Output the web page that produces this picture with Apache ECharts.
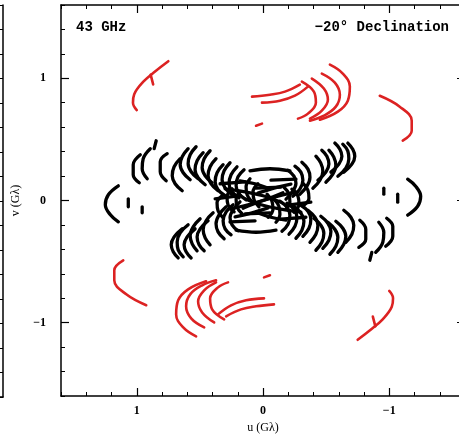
<!DOCTYPE html>
<html lang="en">
<head>
<meta charset="UTF-8">
<title>uv coverage - 43 GHz, -20° Declination</title>
<script src="https://cdn.jsdelivr.net/npm/echarts@6.0.0/dist/echarts.min.js"></script>
<style>
    html, body { margin: 0; padding: 0; background: #ffffff; }
    #chart { width: 459px; height: 438px; }
</style>
</head>
<body>
<div id="chart"></div>
<script>
    // axis range (Gλ) and labelled ticks
    const axisMin = -1.6;
    const axisMax = 1.6;
    const tickStep = 0.2;
    const majorTicks = [-1, 0, 1];

    // black tracks, one half of the plane: [u, v] in Gλ
    const blackOuter = [
        [[1.146, 0.12], [1.225, 0.047], [1.249, -0.035], [1.209, -0.117], [1.146, -0.175]],
        [[1.067, 0.014], [1.067, -0.052]],
        [[0.957, -0.052], [0.957, -0.101]],
        [[0.972, 0.375], [1.028, 0.293], [1.028, 0.211], [0.980, 0.145]],
        [[0.893, 0.424], [0.949, 0.342], [0.957, 0.260], [0.917, 0.178]],
        [[0.846, 0.489], [0.862, 0.424]],
        [[0.759, 0.383], [0.814, 0.317], [0.814, 0.235], [0.767, 0.161]]
    ];
    const blackUpperWing = [
        [[0.593, 0.424], [0.640, 0.358], [0.656, 0.293], [0.632, 0.227], [0.577, 0.170]],
        [[0.656, 0.342], [0.704, 0.276], [0.719, 0.202], [0.696, 0.137], [0.640, 0.080]],
        [[0.474, 0.391], [0.522, 0.325], [0.538, 0.252], [0.514, 0.186], [0.458, 0.129]],
        [[0.530, 0.440], [0.577, 0.375], [0.593, 0.301], [0.569, 0.235], [0.514, 0.178]],
        [[0.419, 0.407], [0.466, 0.342], [0.482, 0.268], [0.458, 0.202], [0.403, 0.145]],
        [[0.372, 0.342], [0.419, 0.276], [0.435, 0.202], [0.411, 0.137], [0.356, 0.080]],
        [[0.316, 0.293], [0.364, 0.227], [0.379, 0.153], [0.356, 0.088], [0.300, 0.039]],
        [[0.261, 0.309], [0.308, 0.243], [0.324, 0.170], [0.300, 0.104], [0.245, 0.047]],
        [[0.206, 0.276], [0.253, 0.211], [0.269, 0.137], [0.245, 0.071], [0.190, 0.022]],
        [[0.150, 0.252], [0.198, 0.194], [0.213, 0.120], [0.190, 0.055], [0.134, 0.006]]
    ];
    const blackLowerWing = [
        [[0.593, -0.199], [0.656, -0.265], [0.680, -0.339], [0.672, -0.404], [0.632, -0.461]],
        [[0.640, -0.232], [0.704, -0.298], [0.727, -0.363], [0.711, -0.420], [0.672, -0.470]],
        [[0.498, -0.150], [0.553, -0.216], [0.577, -0.289], [0.561, -0.355], [0.522, -0.412]],
        [[0.538, -0.232], [0.601, -0.298], [0.625, -0.363], [0.609, -0.420], [0.569, -0.470]],
        [[0.395, -0.101], [0.451, -0.166], [0.474, -0.240], [0.458, -0.306], [0.419, -0.363]],
        [[0.435, -0.166], [0.498, -0.232], [0.522, -0.298], [0.506, -0.363], [0.466, -0.412]],
        [[0.292, -0.052], [0.348, -0.117], [0.372, -0.191], [0.356, -0.257], [0.308, -0.314]],
        [[0.237, -0.035], [0.292, -0.093], [0.316, -0.166], [0.300, -0.232], [0.253, -0.281]],
        [[0.182, -0.011], [0.237, -0.076], [0.261, -0.142], [0.245, -0.199], [0.198, -0.248]]
    ];
    const blackCore = [
        [[0.103, 0.243], [-0.055, 0.260], [-0.213, 0.243]],
        [[0.300, 0.096], [0.142, 0.071], [0, 0.039], [-0.134, -0.011]],
        [[0.261, -0.068], [0.119, -0.035], [-0.016, 0.006], [-0.158, 0.063]],
        [[0.182, 0.161], [0.063, 0.137], [-0.055, 0.096]],
        [[0.221, -0.134], [0.087, -0.101], [-0.040, -0.060]],
        [[0.103, 0.178], [0.134, 0.112], [0.126, 0.047], [0.087, -0.011]],
        [[0.040, 0.137], [0.079, 0.071], [0.071, 0.006], [0.032, -0.052]],
        [[0.245, 0.096], [0.285, 0.030], [0.277, -0.035], [0.229, -0.093]],
        [[0.182, 0.071], [0.213, 0.014], [0.206, -0.052], [0.166, -0.109]],
        [[0.324, 0.039], [0.364, -0.019], [0.356, -0.084], [0.316, -0.142]],
        [[0.340, 0.137], [0.142, 0.153]],
        [[0.379, 0.014], [0.182, 0.039]],
        [[0.261, -0.175], [0.063, -0.166]],
        [[0.142, -0.109], [-0.055, -0.101]]
    ];

    // black tracks, conjugate half
    const blackOuterConj = [
        [[-1.146, -0.12], [-1.225, -0.047], [-1.249, 0.035], [-1.209, 0.117], [-1.146, 0.175]],
        [[-1.067, -0.014], [-1.067, 0.052]],
        [[-0.957, 0.052], [-0.957, 0.101]],
        [[-0.972, -0.375], [-1.028, -0.293], [-1.028, -0.211], [-0.980, -0.145]],
        [[-0.893, -0.424], [-0.949, -0.342], [-0.957, -0.260], [-0.917, -0.178]],
        [[-0.846, -0.489], [-0.862, -0.424]],
        [[-0.759, -0.383], [-0.814, -0.317], [-0.814, -0.235], [-0.767, -0.161]]
    ];
    const blackUpperWingConj = [
        [[-0.593, -0.424], [-0.640, -0.358], [-0.656, -0.293], [-0.632, -0.227], [-0.577, -0.170]],
        [[-0.656, -0.342], [-0.704, -0.276], [-0.719, -0.202], [-0.696, -0.137], [-0.640, -0.080]],
        [[-0.474, -0.391], [-0.522, -0.325], [-0.538, -0.252], [-0.514, -0.186], [-0.458, -0.129]],
        [[-0.530, -0.440], [-0.577, -0.375], [-0.593, -0.301], [-0.569, -0.235], [-0.514, -0.178]],
        [[-0.419, -0.407], [-0.466, -0.342], [-0.482, -0.268], [-0.458, -0.202], [-0.403, -0.145]],
        [[-0.372, -0.342], [-0.419, -0.276], [-0.435, -0.202], [-0.411, -0.137], [-0.356, -0.080]],
        [[-0.316, -0.293], [-0.364, -0.227], [-0.379, -0.153], [-0.356, -0.088], [-0.300, -0.039]],
        [[-0.261, -0.309], [-0.308, -0.243], [-0.324, -0.170], [-0.300, -0.104], [-0.245, -0.047]],
        [[-0.206, -0.276], [-0.253, -0.211], [-0.269, -0.137], [-0.245, -0.071], [-0.190, -0.022]],
        [[-0.150, -0.252], [-0.198, -0.194], [-0.213, -0.120], [-0.190, -0.055], [-0.134, -0.006]]
    ];
    const blackLowerWingConj = [
        [[-0.593, 0.199], [-0.656, 0.265], [-0.680, 0.339], [-0.672, 0.404], [-0.632, 0.461]],
        [[-0.640, 0.232], [-0.704, 0.298], [-0.727, 0.363], [-0.711, 0.420], [-0.672, 0.470]],
        [[-0.498, 0.150], [-0.553, 0.216], [-0.577, 0.289], [-0.561, 0.355], [-0.522, 0.412]],
        [[-0.538, 0.232], [-0.601, 0.298], [-0.625, 0.363], [-0.609, 0.420], [-0.569, 0.470]],
        [[-0.395, 0.101], [-0.451, 0.166], [-0.474, 0.240], [-0.458, 0.306], [-0.419, 0.363]],
        [[-0.435, 0.166], [-0.498, 0.232], [-0.522, 0.298], [-0.506, 0.363], [-0.466, 0.412]],
        [[-0.292, 0.052], [-0.348, 0.117], [-0.372, 0.191], [-0.356, 0.257], [-0.308, 0.314]],
        [[-0.237, 0.035], [-0.292, 0.093], [-0.316, 0.166], [-0.300, 0.232], [-0.253, 0.281]],
        [[-0.182, 0.011], [-0.237, 0.076], [-0.261, 0.142], [-0.245, 0.199], [-0.198, 0.248]]
    ];
    const blackCoreConj = [
        [[-0.103, -0.243], [0.055, -0.260], [0.213, -0.243]],
        [[-0.300, -0.096], [-0.142, -0.071], [0, -0.039], [0.134, 0.011]],
        [[-0.261, 0.068], [-0.119, 0.035], [0.016, -0.006], [0.158, -0.063]],
        [[-0.182, -0.161], [-0.063, -0.137], [0.055, -0.096]],
        [[-0.221, 0.134], [-0.087, 0.101], [0.040, 0.060]],
        [[-0.103, -0.178], [-0.134, -0.112], [-0.126, -0.047], [-0.087, 0.011]],
        [[-0.040, -0.137], [-0.079, -0.071], [-0.071, -0.006], [-0.032, 0.052]],
        [[-0.245, -0.096], [-0.285, -0.030], [-0.277, 0.035], [-0.229, 0.093]],
        [[-0.182, -0.071], [-0.213, -0.014], [-0.206, 0.052], [-0.166, 0.109]],
        [[-0.324, -0.039], [-0.364, 0.019], [-0.356, 0.084], [-0.316, 0.142]],
        [[-0.340, -0.137], [-0.142, -0.153]],
        [[-0.379, -0.014], [-0.182, -0.039]],
        [[-0.261, 0.175], [-0.063, 0.166]],
        [[-0.142, 0.109], [0.055, 0.101]]
    ];

    // red tracks (long baselines), upper half
    const redUpper = [
        [[0.75, 1.14], [0.85, 1.06], [0.95, 0.97], [1.02, 0.87], [1.03, 0.80], [1.0, 0.74]],
        [[0.89, 1.03], [0.87, 0.95]],
        [[-0.925, 0.857], [-1.083, 0.768], [-1.178, 0.653], [-1.178, 0.571], [-1.107, 0.49]],
        [[-0.53, 1.112], [-0.632, 1.039], [-0.688, 0.932], [-0.672, 0.817], [-0.593, 0.727], [-0.451, 0.661]],
        [[-0.466, 1.039], [-0.569, 0.965], [-0.609, 0.866], [-0.577, 0.768], [-0.482, 0.694], [-0.372, 0.653]],
        [[-0.387, 0.998], [-0.482, 0.916], [-0.514, 0.825], [-0.466, 0.735], [-0.372, 0.67]],
        [[-0.308, 0.973], [-0.403, 0.891], [-0.419, 0.801], [-0.356, 0.711], [-0.277, 0.67]],
        [[0.087, 0.85], [-0.055, 0.866], [-0.174, 0.891], [-0.292, 0.948]],
        [[0.008, 0.801], [-0.134, 0.817], [-0.253, 0.858], [-0.356, 0.932]],
        [[0.055, 0.612], [0.008, 0.629]]
    ];
    // red tracks, lower half
    const redLower = [
        [[-0.75, -1.14], [-0.85, -1.06], [-0.95, -0.97], [-1.02, -0.87], [-1.03, -0.80], [-1.0, -0.74]],
        [[-0.89, -1.03], [-0.87, -0.95]],
        [[0.925, -0.857], [1.083, -0.768], [1.178, -0.653], [1.178, -0.571], [1.107, -0.49]],
        [[0.53, -1.112], [0.632, -1.039], [0.688, -0.932], [0.672, -0.817], [0.593, -0.727], [0.451, -0.661]],
        [[0.466, -1.039], [0.569, -0.965], [0.609, -0.866], [0.577, -0.768], [0.482, -0.694], [0.372, -0.653]],
        [[0.387, -0.998], [0.482, -0.916], [0.514, -0.825], [0.466, -0.735], [0.372, -0.67]],
        [[0.308, -0.973], [0.403, -0.891], [0.419, -0.801], [0.356, -0.711], [0.277, -0.67]],
        [[-0.087, -0.85], [0.055, -0.866], [0.174, -0.891], [0.292, -0.948]],
        [[-0.008, -0.801], [0.134, -0.817], [0.253, -0.858], [0.356, -0.932]],
        [[-0.055, -0.612], [-0.008, -0.629]]
    ];

    const black = '#000000';
    const red = '#dc2222';
    const labelFont = { fontFamily: '"Liberation Serif", serif', fontWeight: 'bold', fontSize: 12, color: '#000' };

    function tickText(v) {
        if (v === 0) return '0';
        return (v < 0 ? '\u2212' : '') + Math.abs(v);
    }

    function trackSeries(track, color, width) {
        return {
            type: 'line',
            data: track,
            smooth: 0.4,
            showSymbol: false,
            silent: true,
            animation: false,
            lineStyle: { color: color, width: width, cap: 'round', join: 'round' }
        };
    }

    const blackTracks = [].concat(blackOuter, blackUpperWing, blackLowerWing, blackCore,
        blackOuterConj, blackUpperWingConj, blackLowerWingConj, blackCoreConj);
    const redTracks = [].concat(redUpper, redLower);

    const series = [];
    blackTracks.forEach(t => series.push(trackSeries(t, black, 3.3)));
    redTracks.forEach(t => series.push(trackSeries(t, red, 2.6)));

    // shared axis pieces
    const range = { min: axisMin, max: axisMax, interval: tickStep, scale: true };
    const line = { show: true, onZero: false, lineStyle: { color: black, width: 1.5 } };
    const noLine = { show: false, onZero: false };
    const minor = { show: true, inside: true, length: 4, lineStyle: { color: black, width: 1 } };
    const major = { show: true, inside: true, length: 8, customValues: majorTicks, lineStyle: { color: black, width: 1.2 } };

    const chart = echarts.init(document.getElementById('chart'), null, { renderer: 'canvas' });

    chart.setOption({
        animation: false,
        backgroundColor: '#ffffff',
        grid: [
            { left: 61, right: -6, top: 5, bottom: 42, outerBoundsMode: 'none' },
            // edge of the neighbouring panel on the left
            { left: -300, right: 456, top: 5, bottom: 41, outerBoundsMode: 'none' }
        ],
        xAxis: [
            Object.assign({
                type: 'value', gridIndex: 0, position: 'bottom', inverse: true,
                axisLine: line, axisTick: minor, splitLine: { show: false },
                axisLabel: Object.assign({ customValues: majorTicks, formatter: tickText, margin: 9 }, labelFont),
                name: 'u (G\u03bb)', nameLocation: 'middle', nameGap: 26,
                nameTextStyle: { fontFamily: '"Liberation Serif", serif', fontSize: 12, color: '#000' }
            }, range),
            Object.assign({
                type: 'value', gridIndex: 0, position: 'top', inverse: true,
                axisLine: line, axisTick: minor, axisLabel: { show: false }, splitLine: { show: false }
            }, range),
            Object.assign({
                type: 'value', gridIndex: 0, position: 'bottom', inverse: true,
                axisLine: noLine, axisTick: major, axisLabel: { show: false }, splitLine: { show: false }
            }, range),
            Object.assign({
                type: 'value', gridIndex: 0, position: 'top', inverse: true,
                axisLine: noLine, axisTick: major, axisLabel: { show: false }, splitLine: { show: false }
            }, range),
            Object.assign({
                type: 'value', gridIndex: 1, position: 'bottom',
                axisLine: line, axisTick: { show: false }, axisLabel: { show: false }, splitLine: { show: false }
            }, range)
        ],
        yAxis: [
            Object.assign({
                type: 'value', gridIndex: 0, position: 'left',
                axisLine: line, axisTick: minor, splitLine: { show: false },
                axisLabel: Object.assign({ customValues: majorTicks, formatter: tickText, margin: 15 }, labelFont),
                name: 'v (G\u03bb)', nameLocation: 'middle', nameGap: 35, nameRotate: 90,
                nameTextStyle: { fontFamily: '"Liberation Serif", serif', fontSize: 12, color: '#000' }
            }, range),
            Object.assign({
                type: 'value', gridIndex: 0, position: 'right',
                axisLine: line, axisTick: minor, axisLabel: { show: false }, splitLine: { show: false }
            }, range),
            Object.assign({
                type: 'value', gridIndex: 0, position: 'left',
                axisLine: noLine, axisTick: major, axisLabel: { show: false }, splitLine: { show: false }
            }, range),
            Object.assign({
                type: 'value', gridIndex: 0, position: 'right',
                axisLine: noLine, axisTick: major, axisLabel: { show: false }, splitLine: { show: false }
            }, range),
            Object.assign({
                type: 'value', gridIndex: 1, position: 'right',
                axisLine: line, axisTick: minor, axisLabel: { show: false }, splitLine: { show: false }
            }, range)
        ],
        graphic: [
            {
                type: 'text', left: 76, top: 20, silent: true,
                style: { text: '43 GHz', font: 'bold 14px "Liberation Mono", monospace', fill: '#000' }
            },
            {
                type: 'text', right: 10, top: 20, silent: true,
                style: { text: '\u221220\u00b0 Declination', font: 'bold 14px "Liberation Mono", monospace', fill: '#000' }
            }
        ],
        series: series
    });
</script>
</body>
</html>
